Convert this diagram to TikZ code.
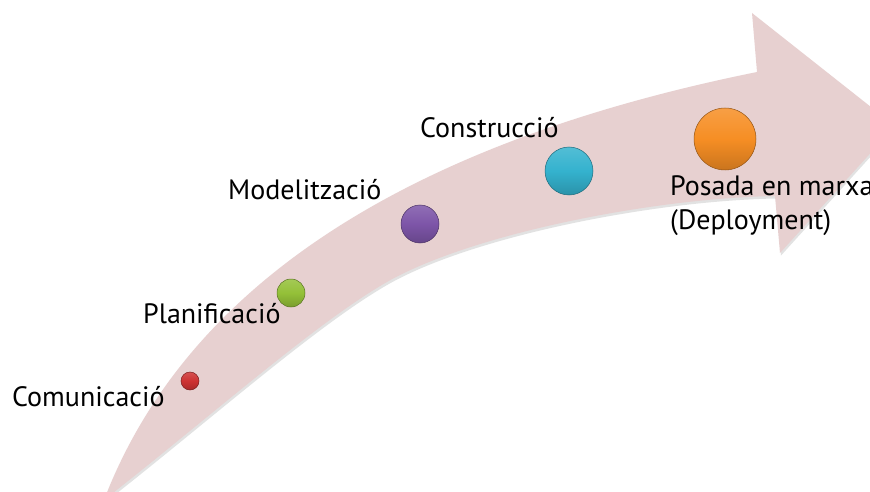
\documentclass[tikz,border=0pt]{standalone}
\usepackage{fontspec}
\setmainfont{PT Sans}
\definecolor{arrowpink}{RGB}{231,208,208}
\definecolor{bred}{RGB}{205,50,50}
\definecolor{bgreen}{RGB}{148,192,56}
\definecolor{bpurple}{RGB}{125,85,168}
\definecolor{bcyan}{RGB}{52,178,206}
\definecolor{borange}{RGB}{246,142,36}
\begin{document}
\begin{tikzpicture}[x=1pt,y=-1pt,
  lbl/.style={anchor=base west, inner sep=0pt, font=\fontsize{28}{34}\selectfont, text=black},
  ballnode/.style={circle, inner sep=0pt, draw=#1!60!black, line width=0.5pt,
    top color=#1!85!white, bottom color=#1!82!black, middle color=#1},
]
\clip (0,0) rectangle (870,492);
\fill[white] (0,0) rectangle (870,492);
% shadow
\fill[black!25, opacity=0.45, xshift=1pt, yshift=-2.5pt]
  (104,500) .. controls (200,250) and (470,130) .. (757,72) -- (752,13) -- (895,126) -- (780,253) -- (775,196)
  .. controls (660,198) and (490,230) .. (400,275) .. controls (330,310) and (214,414) .. (104,500) -- cycle;
% arrow
\fill[arrowpink]
  (104,500) .. controls (200,250) and (470,130) .. (757,72) -- (752,13) -- (895,126) -- (780,253) -- (775,196)
  .. controls (660,198) and (490,230) .. (400,275) .. controls (330,310) and (214,414) .. (104,500) -- cycle;
% balls
\node[ballnode=bred, minimum size=18pt] (b1) at (190,381) {};
\node[ballnode=bgreen, minimum size=28pt] (b2) at (291,293) {};
\node[ballnode=bpurple, minimum size=38pt] (b3) at (420,224) {};
\node[ballnode=bcyan, minimum size=48pt] (b4) at (569,171) {};
\node[ballnode=borange, minimum size=62pt] (b5) at (725,139) {};
% labels
\node[lbl] (t1) at (12,406) {Comunicació};
\node[lbl] (t2) at (143,323) {Planificació};
\node[lbl] (t3) at (228,199) {Modelització};
\node[lbl] (t4) at (420,138) {Construcció};
\node[lbl, align=left] (t5) at (670,229) {Posada en marxa\\(Deployment)};
\end{tikzpicture}
\end{document}
